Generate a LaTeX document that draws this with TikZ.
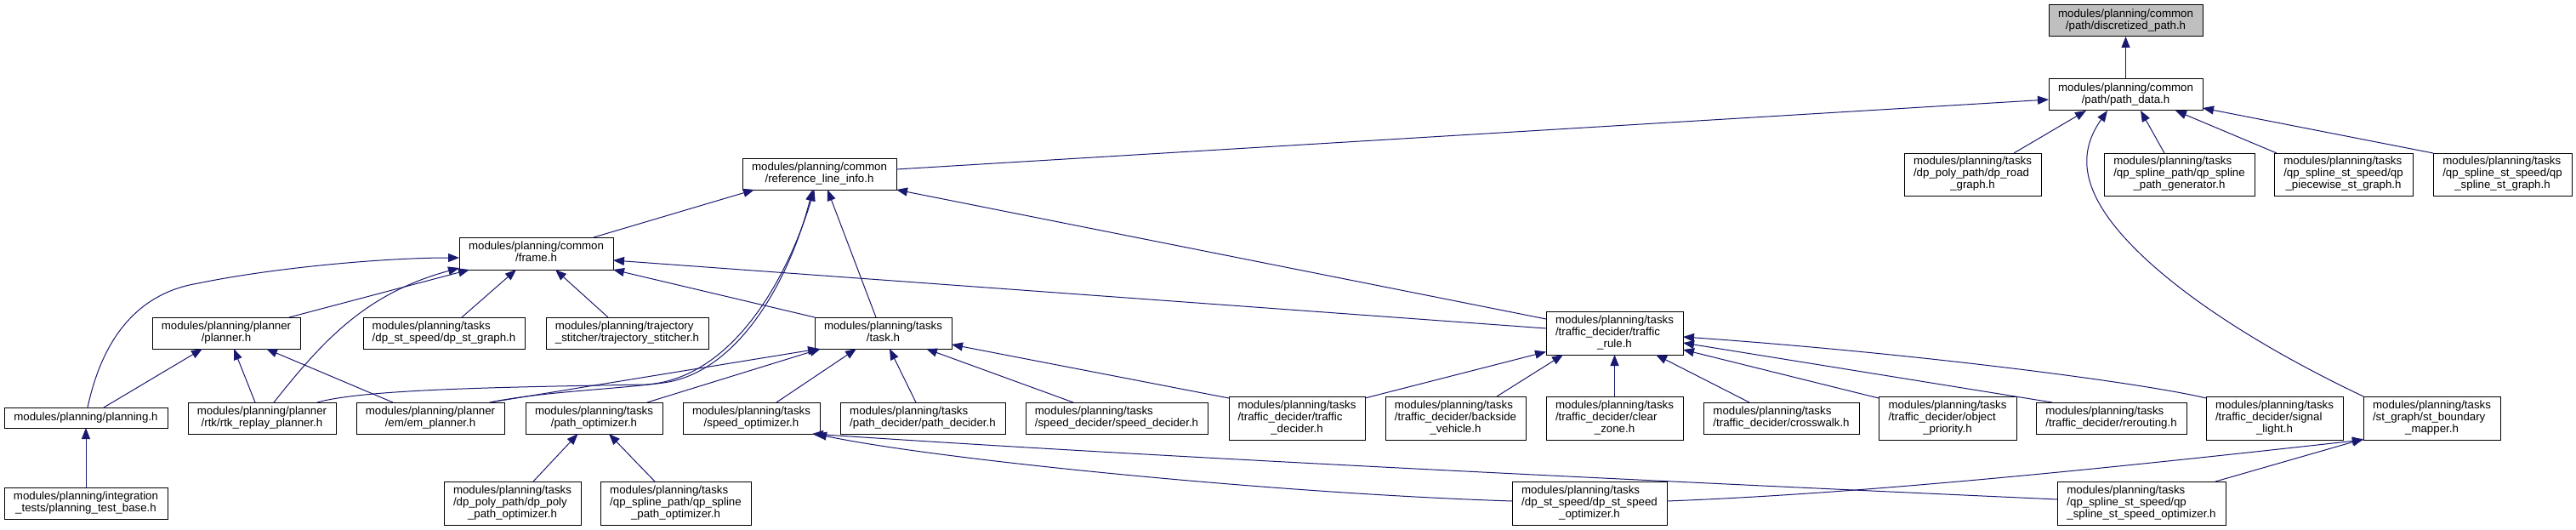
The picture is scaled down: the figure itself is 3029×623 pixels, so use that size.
\documentclass[tikz,border=0pt]{standalone}
\usepackage{fontspec}
\setmainfont{Liberation Sans}
\usetikzlibrary{arrows.meta}
\definecolor{edgeblue}{HTML}{191970}
\definecolor{hilite}{HTML}{BFBFBF}
\newcommand\mlines[2]{\begin{tabular}{@{}l@{}}#1\\\multicolumn{1}{@{}c@{}}{#2}\end{tabular}}
\newcommand\nbox[7][]{\node[nb,#1,minimum width={(#5)-(#3)},minimum height={(#6)-(#4)}] (#2) at ({((#3)+(#5))/2},{((#4)+(#6))/2}) {#7};}
\tikzset{
  nb/.style={draw=black, line width=1pt, fill=white, rectangle, inner sep=0pt, outer sep=0pt,
    font=\fontsize{13.3}{14}\selectfont},
  dep/.style={draw=edgeblue, line width=1pt, -{Triangle[length=13pt,width=10pt]}}
}
\begin{document}
\begin{tikzpicture}[x=1pt,y=-1pt]
\fill[white] (0,0) rectangle (3029,623);
\useasboundingbox (0,0) rectangle (3029,623);
% nodes
\nbox[fill=hilite]{disc}{2409}{6}{2590}{43}{\mlines{modules/planning/common}{/path/discretized\_path.h}}
\nbox{pathdata}{2409}{93}{2590}{130}{\mlines{modules/planning/common}{/path/path\_data.h}}
\nbox{refline}{873}{186}{1054}{223}{\mlines{modules/planning/common}{/reference\_line\_info.h}}
\nbox{roadgraph}{2239}{180}{2400}{230}{\mlines{modules/planning/tasks\\/dp\_poly\_path/dp\_road}{\_graph.h}}
\nbox{qpgen}{2474}{180}{2651}{230}{\mlines{modules/planning/tasks\\/qp\_spline\_path/qp\_spline}{\_path\_generator.h}}
\nbox{piecewise}{2674}{180}{2837}{230}{\mlines{modules/planning/tasks\\/qp\_spline\_st\_speed/qp}{\_piecewise\_st\_graph.h}}
\nbox{stgraph}{2861}{180}{3024}{230}{\mlines{modules/planning/tasks\\/qp\_spline\_st\_speed/qp}{\_spline\_st\_graph.h}}
\nbox{frame}{540}{279}{721}{317}{\mlines{modules/planning/common}{/frame.h}}
\nbox{planner}{179}{373}{353}{410}{\mlines{modules/planning/planner}{/planner.h}}
\nbox{dpstgraph}{427}{373}{617}{410}{\mlines{modules/planning/tasks}{/dp\_st\_speed/dp\_st\_graph.h}}
\nbox{stitcher}{642}{373}{833}{410}{\mlines{modules/planning/trajectory}{\_stitcher/trajectory\_stitcher.h}}
\nbox{task}{958}{373}{1119}{410}{\mlines{modules/planning/tasks}{/task.h}}
\nbox{trafficrule}{1818}{366}{1979}{417}{\mlines{modules/planning/tasks\\/traffic\_decider/traffic}{\_rule.h}}
\nbox{planning}{5}{479}{197}{503}{modules/planning/planning.h}
\nbox{rtk}{221}{473}{395}{510}{\mlines{modules/planning/planner}{/rtk/rtk\_replay\_planner.h}}
\nbox{em}{419}{473}{593}{510}{\mlines{modules/planning/planner}{/em/em\_planner.h}}
\nbox{pathopt}{618}{473}{779}{510}{\mlines{modules/planning/tasks}{/path\_optimizer.h}}
\nbox{speedopt}{803}{473}{964}{510}{\mlines{modules/planning/tasks}{/speed\_optimizer.h}}
\nbox{pathdec}{988}{473}{1182}{510}{\mlines{modules/planning/tasks}{/path\_decider/path\_decider.h}}
\nbox{speeddec}{1206}{473}{1420}{510}{\mlines{modules/planning/tasks}{/speed\_decider/speed\_decider.h}}
\nbox{trafficdec}{1445}{466}{1605}{517}{\mlines{modules/planning/tasks\\/traffic\_decider/traffic}{\_decider.h}}
\nbox{backside}{1629}{466}{1794}{517}{\mlines{modules/planning/tasks\\/traffic\_decider/backside}{\_vehicle.h}}
\nbox{clearzone}{1818}{466}{1979}{517}{\mlines{modules/planning/tasks\\/traffic\_decider/clear}{\_zone.h}}
\nbox{crosswalk}{2003}{473}{2186}{510}{\mlines{modules/planning/tasks}{/traffic\_decider/crosswalk.h}}
\nbox{objprio}{2209}{466}{2371}{517}{\mlines{modules/planning/tasks\\/traffic\_decider/object}{\_priority.h}}
\nbox{rerouting}{2394}{473}{2571}{510}{\mlines{modules/planning/tasks}{/traffic\_decider/rerouting.h}}
\nbox{signal}{2594}{466}{2755}{517}{\mlines{modules/planning/tasks\\/traffic\_decider/signal}{\_light.h}}
\nbox{stbound}{2779}{466}{2940}{517}{\mlines{modules/planning/tasks\\/st\_graph/st\_boundary}{\_mapper.h}}
\nbox{testbase}{5}{573}{197}{610}{\mlines{modules/planning/integration}{\_tests/planning\_test\_base.h}}
\nbox{dppolyopt}{522}{566}{683}{617}{\mlines{modules/planning/tasks\\/dp\_poly\_path/dp\_poly}{\_path\_optimizer.h}}
\nbox{qpsplineopt}{706}{566}{883}{617}{\mlines{modules/planning/tasks\\/qp\_spline\_path/qp\_spline}{\_path\_optimizer.h}}
\nbox{dpstspeed}{1778}{566}{1960}{617}{\mlines{modules/planning/tasks\\/dp\_st\_speed/dp\_st\_speed}{\_optimizer.h}}
\nbox{qpstspeed}{2419}{566}{2617}{617}{\mlines{modules/planning/tasks\\/qp\_spline\_st\_speed/qp}{\_spline\_st\_speed\_optimizer.h}}
% edges into discretized_path and path_data
\draw[dep] (pathdata.north) -- (disc.south);
\draw[dep] ([yshift=5.5]refline.east) -- ([yshift=-5.5]pathdata.west);
\draw[dep] ([xshift=48.5]roadgraph.north) -- ([xshift=-46.5]pathdata.south);
\draw[dep] ([xshift=-17.5]qpgen.north) -- ([xshift=17.5]pathdata.south);
\draw[dep] ([xshift=-78.5]piecewise.north) -- ([xshift=58.5]pathdata.south);
\draw[dep] (stgraph.north west) -- ([yshift=3]pathdata.south east);
\draw[dep] (stbound.north west) .. controls (2640,400) and (2540,330) .. (2490,270) .. controls (2440,210) and (2450,170) .. ([xshift=-21.5]pathdata.south);
% edges into reference_line_info
\draw[dep] ([xshift=67.5]frame.north) -- ([xshift=-76.5]refline.south);
\draw[dep] ([xshift=-8.5]task.north) -- ([xshift=9.5]refline.south);
\draw[dep] ([yshift=16.5]trafficrule.west) -- (refline.south east);
\draw[dep] ([xshift=-22]rtk.north east) .. controls (430,457) and (600,455) .. (760,452) .. controls (860,445) and (925,330) .. ([xshift=-6]refline.south);
\draw[dep] ([xshift=70]em.north) .. controls (640,460) and (720,458) .. (780,450) .. controls (868,438) and (928,330) .. ([xshift=-8]refline.south);
% edges into frame
\draw[dep] ([yshift=5.5]trafficrule.west) -- ([yshift=-8]frame.east);
\draw[dep] (task.north west) -- (frame.south east);
\draw[dep] ([xshift=21]dpstgraph.north) -- ([xshift=-23.5]frame.south);
\draw[dep] ([xshift=-22.5]stitcher.north) -- ([xshift=22.5]frame.south);
\draw[dep] ([xshift=2]planning.north) .. controls (120,400) and (160,345) .. (233,333) .. controls (320,315) and (450,303) .. ([yshift=-5]frame.west);
\draw[dep] ([xshift=-13]planner.north east) -- ([xshift=12]frame.south west);
\draw[dep] ([xshift=14]rtk.north) .. controls (380,400) and (430,345) .. ([yshift=2]frame.south west);
% edges into task
\draw[dep] ([xshift=70]em.north) -- ([xshift=5]task.south west);
\draw[dep] ([xshift=-18]pathopt.north east) -- ([xshift=7]task.south west);
\draw[dep] ([xshift=29.5]speedopt.north) -- ([xshift=-31.5]task.south);
\draw[dep] ([xshift=-8]pathdec.north) -- ([xshift=7.5]task.south);
\draw[dep] ([xshift=-51]speeddec.north) -- ([xshift=50.5]task.south);
\draw[dep] ([yshift=-2]trafficdec.north west) -- ([yshift=-13.5]task.east);
% edges into planner and planning
\draw[dep] ([xshift=21]planning.north) -- ([xshift=-28]planner.south);
\draw[dep] ([xshift=-8]rtk.north) -- ([xshift=9]planner.south);
\draw[dep] ([xshift=-44]em.north) -- ([xshift=47]planner.south);
\draw[dep] (testbase.north) -- (planning.south);
% edges into path_optimizer and speed_optimizer
\draw[dep] ([xshift=24.5]dppolyopt.north) -- ([xshift=-19]pathopt.south);
\draw[dep] ([xshift=-24.5]qpsplineopt.north) -- ([xshift=17.5]pathopt.south);
\draw[dep] ([yshift=2.5]dpstspeed.west) .. controls (1500,580) and (1100,540) .. ([xshift=-5]speedopt.south east);
\draw[dep] ([yshift=4.5]qpstspeed.west) .. controls (2000,568) and (1400,540) .. ([xshift=-9]speedopt.south east);
% edges into st_boundary_mapper
\draw[dep] ([yshift=2.5]dpstspeed.east) .. controls (2200,580) and (2500,548) .. (stbound.south west);
\draw[dep] ([xshift=-12]qpstspeed.north east) -- ([yshift=1]stbound.south west);
% edges into traffic_rule
\draw[dep] ([xshift=-37.5]crosswalk.north) -- ([xshift=48.5]trafficrule.south);
\draw[dep] ([yshift=-2]objprio.north west) -- ([yshift=-19.5]trafficrule.east);
\draw[dep] ([xshift=19]rerouting.north west) -- ([yshift=-11.5]trafficrule.east);
\draw[dep] ([yshift=-2]signal.north west) .. controls (2520,450) and (2250,415) .. ([yshift=-4.5]trafficrule.east);
\draw[dep] ([yshift=-2]trafficdec.north east) -- ([yshift=-22]trafficrule.west);
\draw[dep] ([xshift=48.5]backside.north) -- ([xshift=-60.5]trafficrule.south);
\draw[dep] (clearzone.north) -- (trafficrule.south);
\end{tikzpicture}
\end{document}
